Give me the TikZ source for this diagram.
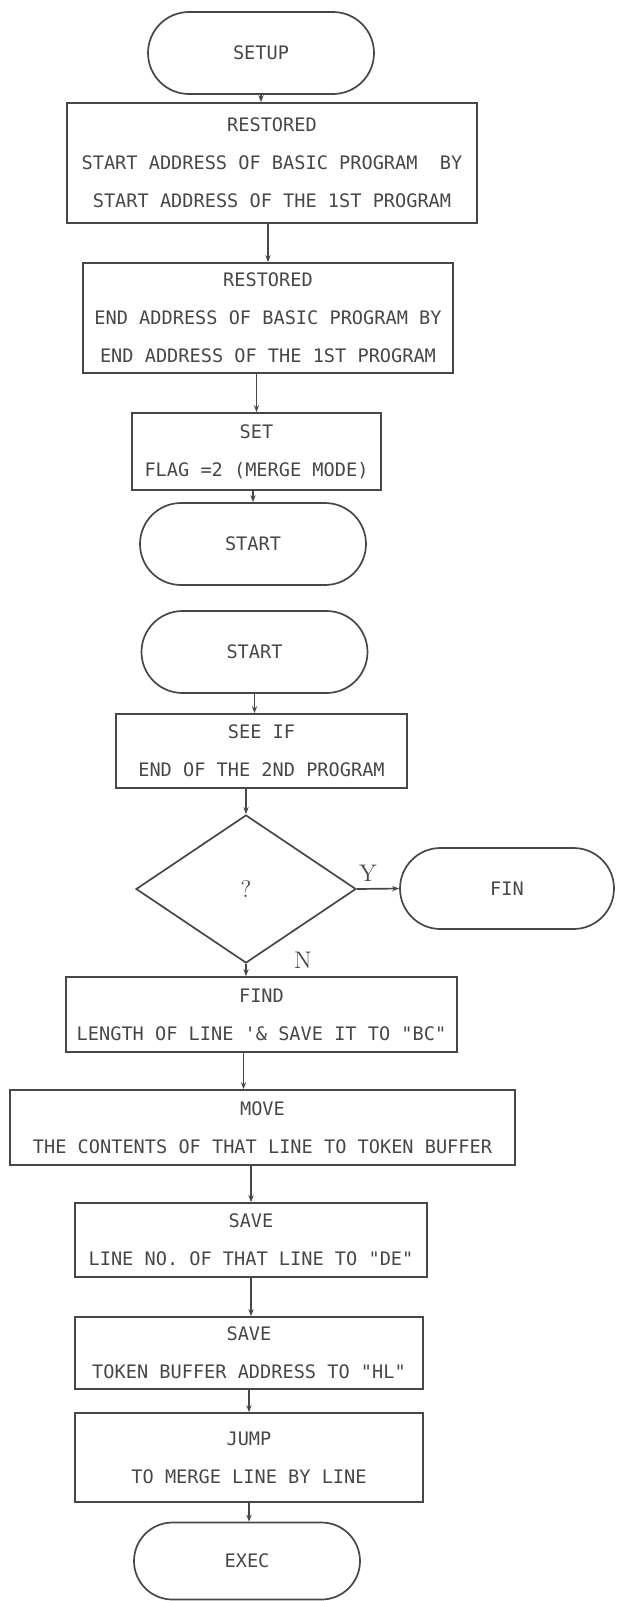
\documentclass[tikz,border=0pt]{standalone}
\usepackage{fontspec}
\newfontfamily\printfont{DejaVu Sans Mono}
\usetikzlibrary{shapes.geometric,shapes.misc,arrows.meta,calc}
\colorlet{ink}{black!72}
\tikzset{
  stepbox/.style={draw=ink,rectangle,inner sep=0pt,align=center,text=ink,font=\printfont\fontsize{9.3}{19}\selectfont},
  termbox/.style={draw=ink,rounded rectangle,inner sep=0pt,minimum width=113pt,minimum height=41pt,text=ink,font=\printfont\fontsize{9.3}{19}\selectfont},
  testbox/.style={draw=ink,diamond,inner sep=0pt,minimum width=110pt,minimum height=74pt,text=ink,font=\fontsize{12}{14}\selectfont},
  flow/.style={draw=ink,->,>={Stealth[length=3.5pt,width=2.6pt]}},
}
\begin{document}
\begin{tikzpicture}[x=0.5pt,y=-0.5pt,line width=0.85pt]
\useasboundingbox (0,0) rectangle (616,1601);

% first page
\node[termbox] (setup) at (261,53) {SETUP};
\node[stepbox,minimum width=205pt,minimum height=60pt] (restA) at (272,163)
  {RESTORED\\START ADDRESS OF BASIC PROGRAM\ \ BY\\START ADDRESS OF THE 1ST PROGRAM};
\node[stepbox,minimum width=185pt,minimum height=55pt] (restB) at (268,318)
  {RESTORED\\END ADDRESS OF BASIC PROGRAM BY\\END ADDRESS OF THE 1ST PROGRAM};
\node[stepbox,minimum width=124.5pt,minimum height=38.5pt] (setflag) at (256.5,451.5)
  {SET\\FLAG =2 (MERGE MODE)};
\node[termbox] (startA) at (253,544) {START};

% second page
\node[termbox] (startB) at (254.5,652) {START};
\node[stepbox,minimum width=145.5pt,minimum height=37pt] (seeif) at (261.5,751)
  {SEE IF\\END OF THE 2ND PROGRAM};
\node[testbox] (test) at (246,889) {?};
\node[termbox,minimum width=107pt,minimum height=40.5pt] (fin) at (507,888.5) {FIN};
\node[text=ink,font=\fontsize{12}{14}\selectfont] (ylab) at (368,873) {Y};
\node[text=ink,font=\fontsize{12}{14}\selectfont] (nlab) at (303,960) {N};
\node[stepbox,minimum width=195.5pt,minimum height=37.5pt] (find) at (261.5,1014.5)
  {FIND\\LENGTH OF LINE '\& SAVE IT TO "BC"};
\node[stepbox,minimum width=252.5pt,minimum height=37.5pt] (move) at (262.5,1127.5)
  {MOVE\\THE CONTENTS OF THAT LINE TO TOKEN BUFFER};
\node[stepbox,minimum width=176pt,minimum height=37pt] (saveA) at (251,1240)
  {SAVE\\LINE NO. OF THAT LINE TO "DE"};
\node[stepbox,minimum width=174pt,minimum height=36pt] (saveB) at (249,1353)
  {SAVE\\TOKEN BUFFER ADDRESS TO "HL"};
\node[stepbox,minimum width=174pt,minimum height=44.5pt] (jump) at (249,1457.5)
  {JUMP\\TO MERGE LINE BY LINE};
\node[termbox,minimum height=38.5pt] (exec) at (247,1561) {EXEC};

\draw[flow] (setup.south) -- (setup.south |- restA.north);
\draw[flow] (restB.north |- restA.south) -- (restB.north);
\draw[flow] (setflag.north |- restB.south) -- (setflag.north);
\draw[flow] (startA.north |- setflag.south) -- (startA.north);
\draw[flow] (startB.south) -- (startB.south |- seeif.north);
\draw[flow] (test.north |- seeif.south) -- (test.north);
\draw[flow] (test.east) -- (fin.west);
\draw[flow] (test.south) -- (test.south |- find.north);
\draw[flow] ($(find.south)+(-9pt,0)$) -- ($(find.south |- move.north)+(-9pt,0)$);
\draw[flow] (saveA.north |- move.south) -- (saveA.north);
\draw[flow] (saveA.south) -- (saveA.south |- saveB.north);
\draw[flow] (saveB.south) -- (saveB.south |- jump.north);
\draw[flow] (jump.south) -- (jump.south |- exec.north);

\end{tikzpicture}
\end{document}
